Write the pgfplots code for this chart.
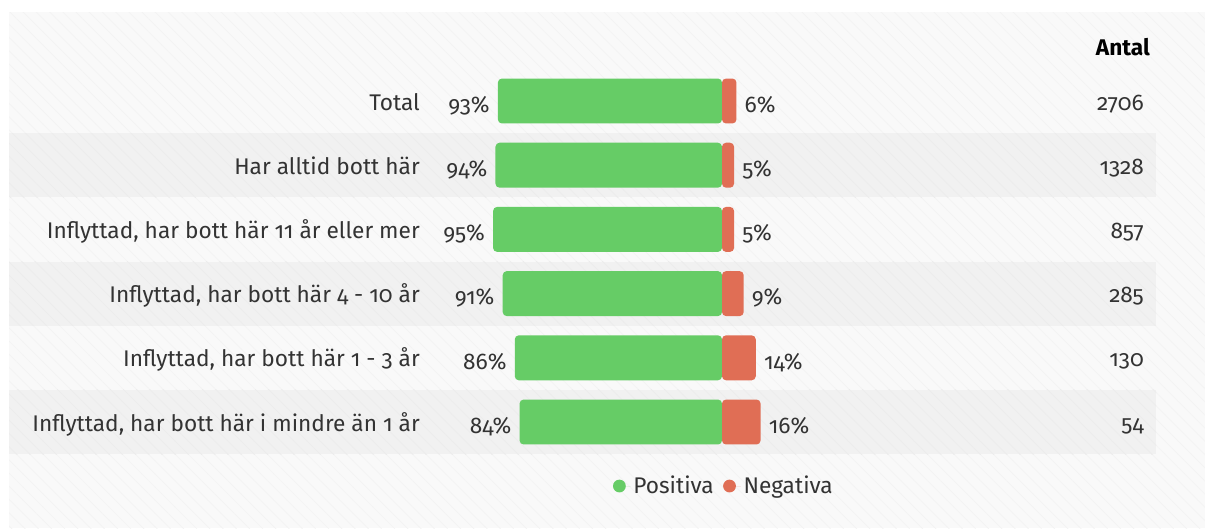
\documentclass[border=0pt]{standalone}
\usepackage{pgfplots}
\pgfplotsset{compat=1.18}
\usepackage{pgfplotstable}
\usetikzlibrary{patterns.meta}
\usepackage{fontspec}
\setmainfont{Fira Sans}[Numbers=OldStyle]
\definecolor{posGreen}{HTML}{66CC66}
\definecolor{negRed}{HTML}{E06E55}
\definecolor{txt}{HTML}{333333}
\definecolor{panel}{HTML}{F9F9F9}
\definecolor{panelLine}{HTML}{F3F3F3}
\definecolor{band}{HTML}{F1F1F1}
\definecolor{bandLine}{HTML}{ECECEC}
\newcommand{\lab}{\fontsize{17}{19}\selectfont}

% one row per group: positive %, negative %
\pgfplotstableread{
row pos neg
0 93 6
1 94 5
2 95 5
3 91 9
4 86 14
5 84 16
}\survey

\begin{document}
\begin{tikzpicture}
\begin{axis}[
  width=903.75pt, height=397.5pt, scale only axis,
  xmin=-299.59, xmax=200.41,
  ymin=-1.5732, ymax=6.6822, y dir=reverse,
  axis lines=none, clip=false,
  font=\lab, text=txt,
  legend style={at={(0.601,0.083)}, anchor=center, draw=none, fill=none,
                legend columns=2, font=\lab, text=txt,
                /tikz/every even column/.append style={column sep=5pt}},
  legend image code/.code={\fill[#1] (0pt,0pt) circle (4.8pt); \path (4.8pt,0pt) -- (8.5pt,0pt);},
]
\path (rel axis cs:0,0) rectangle (rel axis cs:1,1);
% panel, alternating bands, faint stripes
\fill[panel] (axis cs:-295.85,-1.386) rectangle (axis cs:200.41,6.651);
\path[pattern={Lines[angle=-45, distance=7pt, line width=0.5pt]}, pattern color=panelLine]
  (axis cs:-295.85,-1.386) rectangle (axis cs:200.41,6.651);
\pgfplotsinvokeforeach{1,3,5}{
  \fill[band] (axis cs:-295.85,#1-0.5) rectangle (axis cs:180.08,#1+0.5);
  \path[pattern={Lines[angle=-45, distance=7pt, line width=0.5pt]}, pattern color=bandLine]
    (axis cs:-295.85,#1-0.5) rectangle (axis cs:180.08,#1+0.5);
}

\addplot[xbar, bar shift=0pt, bar width=0.7, fill=posGreen, draw=none,
  rounded corners=3pt,
  point meta=explicit symbolic,
  nodes near coords={\pgfplotspointmeta\%},
  every node near coord/.append style={anchor=base east, inner sep=0pt, xshift=-6pt, yshift=-8.5pt, text=txt}]
  table[x expr=-\thisrow{pos}, y=row, meta=pos] {\survey};
\addlegendentry{Positiva}

\addplot[xbar, bar shift=0pt, bar width=0.7, fill=negRed, draw=none,
  rounded corners=3pt,
  point meta=explicit symbolic,
  nodes near coords={\pgfplotspointmeta\%},
  every node near coord/.append style={anchor=base west, inner sep=0pt, xshift=6pt, yshift=-8.5pt, text=txt}]
  table[x=neg, y=row, meta=neg] {\survey};
\addlegendentry{Negativa}

% counts
\node[anchor=base east, inner sep=0pt, font=\lab\bfseries, text=black]
  at (axis cs:177.6,-0.7165) {Antal};
\begin{scope}[every node/.style={anchor=base east, inner sep=0pt, yshift=-6.75pt}]
\node at (axis cs:175.1,0) {2706};
\node at (axis cs:175.1,1) {1328};
\node at (axis cs:175.1,2) {857};
\node at (axis cs:175.1,3) {285};
\node at (axis cs:175.1,4) {130};
\node at (axis cs:175.1,5) {54};

% category names
\node at (axis cs:-125.3,0) {Total};
\node at (axis cs:-125.3,1) {Har alltid bott här};
\node at (axis cs:-125.3,2) {Inflyttad, har bott här 11 år eller mer};
\node at (axis cs:-125.3,3) {Inflyttad, har bott här 4 - 10 år};
\node at (axis cs:-125.3,4) {Inflyttad, har bott här 1 - 3 år};
\node at (axis cs:-125.3,5) {Inflyttad, har bott här i mindre än 1 år};
\end{scope}
\end{axis}
\end{tikzpicture}
\end{document}
